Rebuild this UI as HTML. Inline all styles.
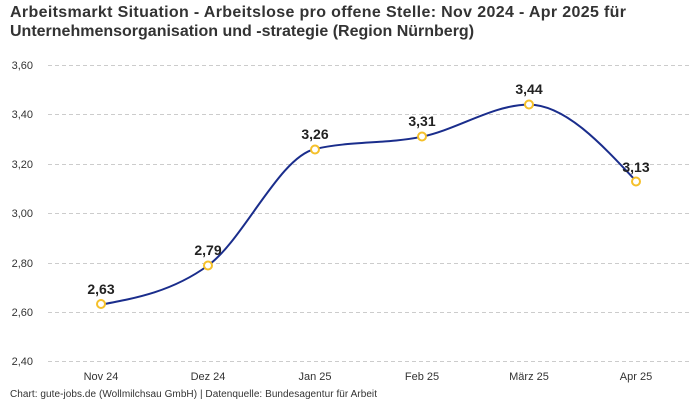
<!DOCTYPE html>
<html><head><meta charset="utf-8"><style>
body{margin:0;background:#fff;}
svg{display:block;font-family:"Liberation Sans",sans-serif;}
</style></head><body>
<svg width="700" height="400" viewBox="0 0 700 400">
<text x="10" y="17" font-size="16" font-weight="bold" fill="#333" textLength="616" lengthAdjust="spacing">Arbeitsmarkt Situation - Arbeitslose pro offene Stelle: Nov 2024 - Apr 2025 für</text>
<text x="10" y="36" font-size="16" font-weight="bold" fill="#333">Unternehmensorganisation und -strategie (Region Nürnberg)</text>
<g stroke="#ccc" stroke-dasharray="4,3" stroke-width="1">
<line x1="48" x2="690" y1="65.5" y2="65.5"/><line x1="48" x2="690" y1="114.5" y2="114.5"/>
<line x1="48" x2="690" y1="164.5" y2="164.5"/><line x1="48" x2="690" y1="213.5" y2="213.5"/>
<line x1="48" x2="690" y1="263.5" y2="263.5"/><line x1="48" x2="690" y1="312.5" y2="312.5"/>
<line x1="48" x2="690" y1="361.5" y2="361.5"/>
</g>
<g font-size="11" fill="#333" text-anchor="end">
<text x="33" y="69">3,60</text><text x="33" y="118">3,40</text><text x="33" y="168">3,20</text>
<text x="33" y="217">3,00</text><text x="33" y="267">2,80</text><text x="33" y="316">2,60</text><text x="33" y="365">2,40</text>
</g>
<g font-size="11" fill="#333" text-anchor="middle">
<text x="101" y="380">Nov 24</text><text x="208" y="380">Dez 24</text><text x="315" y="380">Jan 25</text>
<text x="422" y="380">Feb 25</text><text x="529" y="380">März 25</text><text x="636" y="380">Apr 25</text>
</g>
<path d="M101,304.6 C136.67,298 172.33,291.4 208,265.5 C243.67,239.6 279.33,157.2 315,149 C350.67,140.8 386.33,144.1 422,136.7 C457.67,129.3 493.33,104.6 529,104.6 C564.67,104.6 600.33,142.8 636,181" fill="none" stroke="#1a2d8c" stroke-width="2"/>
<g fill="#fff" stroke="#f5c02a" stroke-width="2">
<circle cx="101" cy="304" r="4"/><circle cx="208" cy="265.5" r="4"/><circle cx="315" cy="149.5" r="4"/>
<circle cx="422" cy="136.5" r="4"/><circle cx="529" cy="104.5" r="4"/><circle cx="636" cy="181.5" r="4"/>
</g>
<g font-size="14" font-weight="bold" fill="#222" text-anchor="middle">
<text x="101" y="294">2,63</text><text x="208" y="255">2,79</text><text x="315" y="139">3,26</text>
<text x="422" y="126">3,31</text><text x="529" y="94">3,44</text><text x="636" y="172">3,13</text>
</g>
<text x="10" y="397" font-size="10" fill="#333" textLength="367" lengthAdjust="spacing">Chart: gute-jobs.de (Wollmilchsau GmbH) | Datenquelle: Bundesagentur für Arbeit</text>
</svg>
</body></html>
